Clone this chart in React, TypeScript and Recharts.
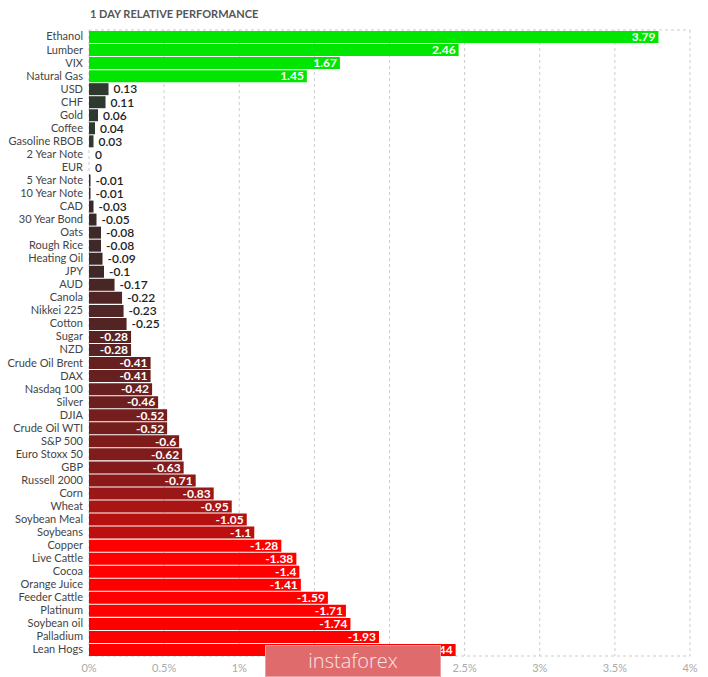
import React from 'react'
import { BarChart, Bar, XAxis, YAxis, CartesianGrid, LabelList, Cell } from 'recharts'

const categories = [
  'Ethanol', 'Lumber', 'VIX', 'Natural Gas', 'USD', 'CHF', 'Gold', 'Coffee', 'Gasoline RBOB',
  '2 Year Note', 'EUR', '5 Year Note', '10 Year Note', 'CAD', '30 Year Bond', 'Oats', 'Rough Rice',
  'Heating Oil', 'JPY', 'AUD', 'Canola', 'Nikkei 225', 'Cotton', 'Sugar', 'NZD', 'Crude Oil Brent',
  'DAX', 'Nasdaq 100', 'Silver', 'DJIA', 'Crude Oil WTI', 'S&P 500', 'Euro Stoxx 50', 'GBP',
  'Russell 2000', 'Corn', 'Wheat', 'Soybean Meal', 'Soybeans', 'Copper', 'Live Cattle', 'Cocoa',
  'Orange Juice', 'Feeder Cattle', 'Platinum', 'Soybean oil', 'Palladium', 'Lean Hogs',
]

const changes = [
  3.79, 2.46, 1.67, 1.45, 0.13, 0.11, 0.06, 0.04, 0.03,
  0, 0, -0.01, -0.01, -0.03, -0.05, -0.08, -0.08,
  -0.09, -0.1, -0.17, -0.22, -0.23, -0.25, -0.28, -0.28, -0.41,
  -0.41, -0.42, -0.46, -0.52, -0.52, -0.6, -0.62, -0.63,
  -0.71, -0.83, -0.95, -1.05, -1.1, -1.28, -1.38, -1.4,
  -1.41, -1.59, -1.71, -1.74, -1.93, -2.44,
]

const xTicks = [0, 0.5, 1, 1.5, 2, 2.5, 3, 3.5, 4]

const data = categories.map((name, i) => ({ name, value: changes[i], size: Math.abs(changes[i]) }))

// dark near zero, fading to bright red for big losers
function barColor(v: number) {
  if (v === 0) return 'transparent'
  if (v >= 1) return '#00e600'
  if (v > 0) return '#2e3a30'
  if (Math.abs(v) >= 1.2) return '#ff0000'
  const t = Math.abs(v) / 1.2
  const from = [0x34, 0x2a, 0x2a]
  const to = [0xc8, 0x0e, 0x0e]
  const c = from.map((f, k) => Math.round(f + (to[k] - f) * t))
  return `rgb(${c[0]},${c[1]},${c[2]})`
}

function ValueLabel(props: any) {
  const { x, y, width, height, value } = props
  const inside = width >= 40
  return (
    <text
      x={inside ? x + width - 3 : x + width + 5}
      y={y + height / 2}
      dy="0.36em"
      textAnchor={inside ? 'end' : 'start'}
      fill={inside ? '#fff' : '#222'}
      fontWeight={inside ? 700 : 600}
      fontSize={12}
      fontFamily="Lato"
    >
      {String(value)}
    </text>
  )
}

function NameTick(props: any) {
  const { x, y, payload } = props
  return (
    <text x={x} y={y} dy="0.36em" textAnchor="end" fill="#444" fontSize={11} fontFamily="Lato">
      {payload.value}
    </text>
  )
}

export default function App() {
  return (
    <div style={{ position: 'absolute', left: 0, top: 0, width: 708, height: 677, background: '#fff' }}>
      <div
        style={{
          position: 'absolute', left: 90, top: 7, fontFamily: 'Lato', fontWeight: 700,
          fontSize: 11, color: '#555',
        }}
      >
        1 DAY RELATIVE PERFORMANCE
      </div>
      <BarChart
        width={708}
        height={677}
        data={data}
        layout="vertical"
        margin={{ top: 30, right: 18, left: 0, bottom: 0 }}
        barSize={12}
      >
        <CartesianGrid
          stroke="#ccc"
          strokeDasharray="3 3"
          horizontalCoordinatesGenerator={({ offset }: any) => [offset.top, offset.top + offset.height]}
        />
        <XAxis
          type="number"
          domain={[0, 4]}
          ticks={xTicks}
          tickFormatter={(v) => `${v}%`}
          axisLine={false}
          tickLine={false}
          height={21}
          tick={{ fontSize: 11, fill: '#aaa', fontFamily: 'Lato' }}
        />
        <YAxis
          type="category"
          dataKey="name"
          width={89}
          interval={0}
          axisLine={false}
          tickLine={false}
          tickSize={4}
          tick={<NameTick />}
        />
        <Bar dataKey="size" isAnimationActive={false} minPointSize={1}>
          {data.map((d) => (
            <Cell key={d.name} fill={barColor(d.value)} />
          ))}
          <LabelList dataKey="value" content={<ValueLabel />} />
        </Bar>
      </BarChart>
      <div
        style={{
          position: 'absolute', left: 265, top: 645, width: 176, height: 32, background: '#e06b6d',
          border: '1px solid #eaa0a0', boxSizing: 'border-box', color: '#f3e6e6',
          fontFamily: 'Open Sans', fontSize: 20, fontWeight: 300, textAlign: 'center', lineHeight: '30px',
        }}
      >
        instaforex
      </div>
    </div>
  )
}
